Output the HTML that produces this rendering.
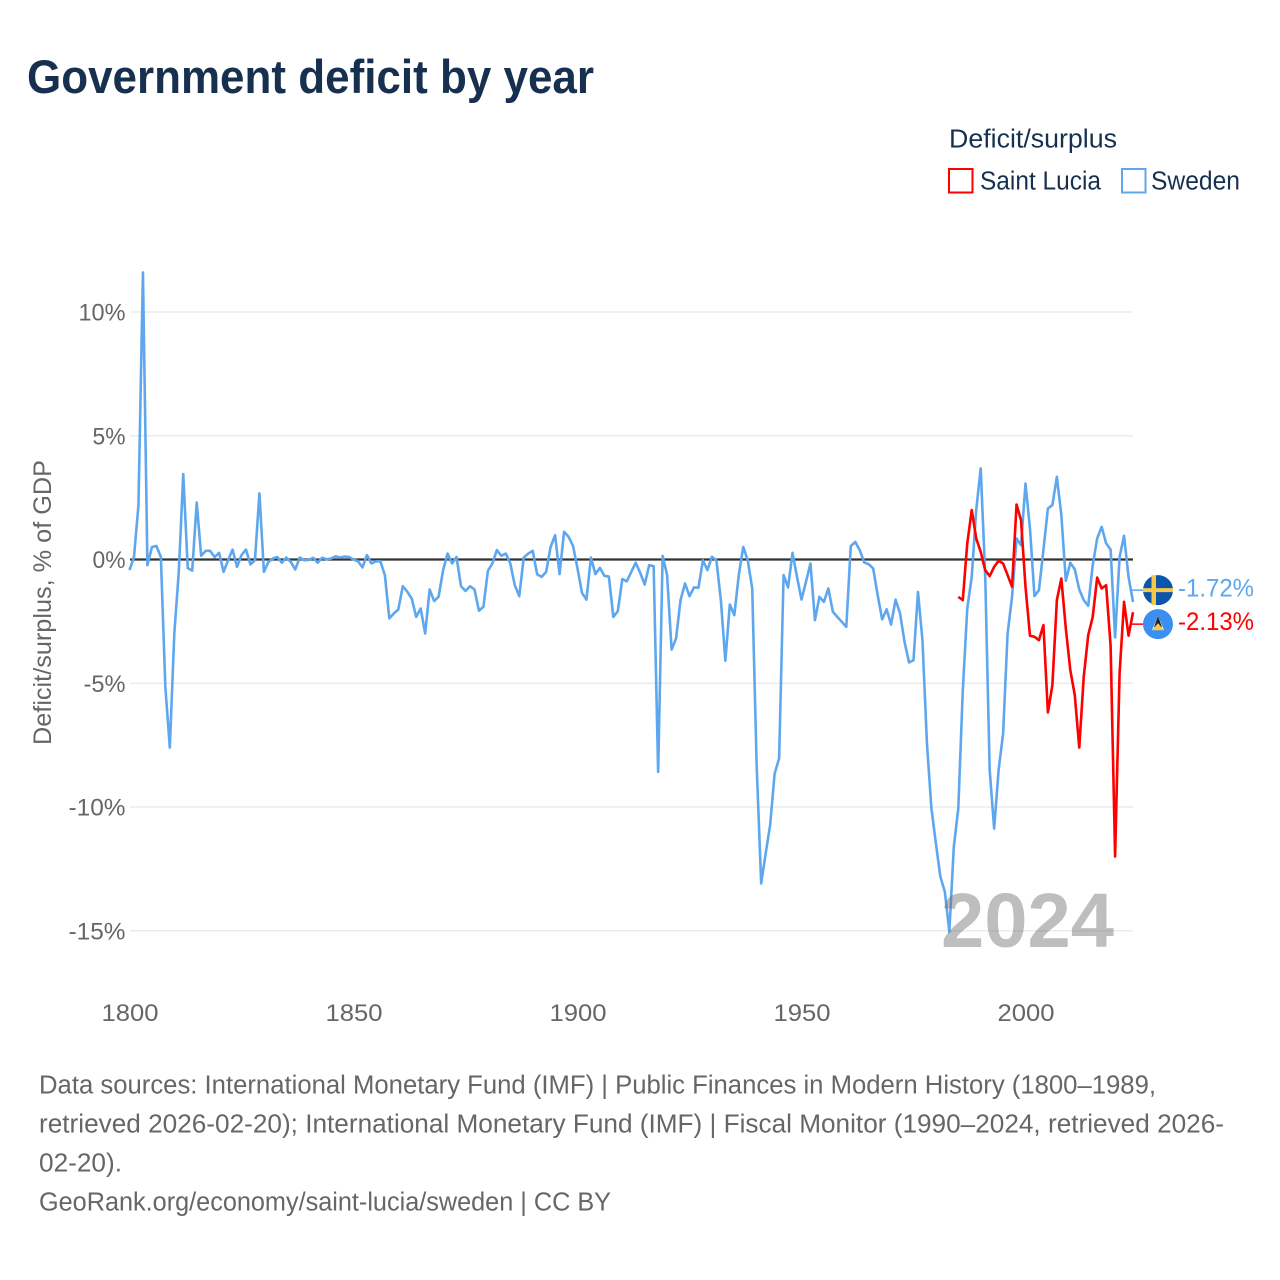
<!DOCTYPE html>
<html lang="en">
<head>
<meta charset="utf-8">
<title>Government deficit by year</title>
<style>
html,body{margin:0;padding:0;background:#fff;}
svg{display:block;font-family:"Liberation Sans",sans-serif;}
</style>
</head>
<body>
<svg id="chart" xmlns="http://www.w3.org/2000/svg" width="1280" height="1280" viewBox="0 0 1280 1280">
  <rect width="1280" height="1280" fill="#fff"/>
  <text x="27" y="93" font-size="47" font-weight="700" fill="#18304f" textLength="567" lengthAdjust="spacingAndGlyphs">Government deficit by year</text>
  <g>
    <text x="949" y="147.5" font-size="25.5" fill="#18304f" textLength="168" lengthAdjust="spacingAndGlyphs">Deficit/surplus</text>
    <g>
      <rect x="949" y="169" width="23.5" height="23.5" fill="#fff" stroke="#ff0000" stroke-width="2"/>
      <text x="980" y="189.5" font-size="25.5" fill="#18304f" textLength="121" lengthAdjust="spacingAndGlyphs">Saint Lucia</text>
    </g>
    <g>
      <rect x="1122" y="169" width="23.5" height="23.5" fill="#fff" stroke="#5ea7ef" stroke-width="2"/>
      <text x="1151" y="189.5" font-size="25.5" fill="#18304f" textLength="89" lengthAdjust="spacingAndGlyphs">Sweden</text>
    </g>
  </g>
  <text transform="translate(51,745) rotate(-90)" font-size="25" fill="#666" textLength="285" lengthAdjust="spacingAndGlyphs">Deficit/surplus, % of GDP</text>
  <g id="grid"></g>
  <g id="ytick-labels"></g>
  <g id="xtick-labels"></g>
  <line id="zero-line" stroke="#333" stroke-width="2.2"/>
  <g id="series"></g>
  <text x="941" y="947" font-size="77" font-weight="700" fill="#6e6e6e" fill-opacity="0.45" textLength="173" lengthAdjust="spacingAndGlyphs">2024</text>
  <g id="end-labels"></g>
  <g id="flag-sweden">
    <circle r="15" fill="#0b56a8"/>
    <rect x="-6.5" y="-15" width="4.5" height="30" fill="#f5c84a"/>
    <rect x="-15" y="-2" width="30" height="4" fill="#f5c84a"/>
  </g>
  <g id="flag-lucia">
    <circle r="15" fill="#3a8ff0"/>
    <polygon points="0,-8 6,6 -6,6" fill="#fff"/>
    <polygon points="0,-8 4,3 -4,3" fill="#222"/>
    <polygon points="0,-1 6,6 -6,6" fill="#f5c84a"/>
  </g>
  <g font-size="25.5" fill="#666">
    <text x="39" y="1093.5" textLength="1117" lengthAdjust="spacingAndGlyphs">Data sources: International Monetary Fund (IMF) | Public Finances in Modern History (1800–1989,</text>
    <text x="39" y="1132.5" textLength="1185" lengthAdjust="spacingAndGlyphs">retrieved 2026-02-20); International Monetary Fund (IMF) | Fiscal Monitor (1990–2024, retrieved 2026-</text>
    <text x="39" y="1171.5" textLength="83" lengthAdjust="spacingAndGlyphs">02-20).</text>
    <text x="39" y="1210.5" textLength="572" lengthAdjust="spacingAndGlyphs">GeoRank.org/economy/saint-lucia/sweden | CC BY</text>
  </g>
</svg>
<script>
var swedenStartYear = 1800;
var luciaStartYear = 1985;
var swedenValues = [
-0.43,0.1,2.2,11.6,-0.23,0.5,0.55,0.1,-5.15,-7.6,
-3.0,-0.5,3.45,-0.35,-0.45,2.3,0.15,0.35,0.35,0.1,
0.27,-0.5,-0.03,0.4,-0.3,0.18,0.4,-0.2,-0.03,2.67,
-0.5,-0.1,0.04,0.1,-0.13,0.08,-0.1,-0.4,0.08,-0.03,
-0.02,0.07,-0.13,0.07,0.01,0.04,0.13,0.08,0.12,0.1,
0,-0.07,-0.32,0.18,-0.16,-0.08,-0.07,-0.63,-2.38,-2.18,
-2.02,-1.08,-1.3,-1.58,-2.32,-1.98,-2.99,-1.21,-1.68,-1.5,
-0.43,0.24,-0.16,0.1,-1.08,-1.27,-1.08,-1.21,-2.07,-1.91,
-0.46,-0.16,0.38,0.15,0.24,-0.16,-1.04,-1.48,0.08,0.24,
0.35,-0.6,-0.7,-0.5,0.51,0.98,-0.59,1.12,0.92,0.55,
-0.36,-1.35,-1.62,0.08,-0.59,-0.34,-0.66,-0.69,-2.32,-2.09,
-0.79,-0.88,-0.5,-0.13,-0.54,-1.01,-0.23,-0.27,-8.58,0.15,
-0.63,-3.64,-3.19,-1.64,-0.97,-1.48,-1.13,-1.14,-0.03,-0.43,
0.11,-0.03,-1.64,-4.09,-1.82,-2.25,-0.63,0.51,-0.03,-1.17,
-8.38,-13.09,-11.88,-10.73,-8.65,-8.04,-0.63,-1.13,0.27,-0.7,
-1.62,-0.9,-0.16,-2.45,-1.51,-1.71,-1.17,-2.11,-2.32,-2.52,
-2.72,0.54,0.71,0.38,-0.12,-0.19,-0.36,-1.44,-2.42,-2.01,
-2.63,-1.62,-2.18,-3.33,-4.16,-4.07,-1.31,-3.26,-7.43,-10.06,
-11.47,-12.82,-13.43,-15.04,-11.6,-10.06,-5.3,-1.98,-0.7,2.0,
3.68,-0.6,-8.5,-10.87,-8.5,-7.03,-3.0,-1.5,0.85,0.58,
3.07,1.25,-1.48,-1.24,0.38,2.06,2.2,3.34,1.8,-0.86,
-0.13,-0.4,-1.21,-1.64,-1.87,-0.23,0.85,1.32,0.65,0.4,
-3.15,0.1,0.96,-0.7,-1.72
];
var luciaValues = [
-1.51,-1.64,0.65,2.0,0.85,0.31,-0.43,-0.67,-0.3,-0.05,
-0.16,-0.63,-1.1,2.22,1.59,-1.1,-3.08,-3.12,-3.26,-2.65,
-6.18,-5.08,-1.64,-0.77,-2.79,-4.47,-5.48,-7.6,-4.74,-3.06,
-2.32,-0.73,-1.17,-1.04,-3.5,-12.0,-4.6,-1.71,-3.08,-2.13
];
var yTickValues = [10,5,0,-5,-10,-15];
var yTickLabels = ["10%","5%","0%","-5%","-10%","-15%"];
var xTickValues = [1800,1850,1900,1950,2000];
var xTickLabels = ["1800","1850","1900","1950","2000"];

var SVGNS = "http://www.w3.org/2000/svg";
function xScale(year){ return 129.5 + (year - 1800) * 4.48; }
function yScale(v){ return 559.5 - v * 24.75; }
function make(tag, parent){
  var el = document.createElementNS(SVGNS, tag);
  parent.appendChild(el);
  return el;
}
function linePath(values, startYear){
  var d = "";
  for (var i = 0; i < values.length; i++){
    d += (i ? "L" : "M") + xScale(startYear + i).toFixed(2) + " " + yScale(values[i]).toFixed(2);
  }
  return d;
}

var gridG = document.getElementById("grid");
var yTickG = document.getElementById("ytick-labels");
var yWidths = {"10%":47,"5%":33,"0%":33,"-5%":42,"-10%":57,"-15%":57};
yTickValues.forEach(function(v, i){
  if (v !== 0) {
    var g = make("line", gridG);
    
    
    g.setAttribute("x1", 130);
    g.setAttribute("x2", 1133);
    g.setAttribute("y1", yScale(v));
    g.setAttribute("y2", yScale(v));
    g.setAttribute("stroke", "#ebebeb");
    g.setAttribute("stroke-width", "1.5");
  }
  var t = make("text", yTickG);
  
  
  t.setAttribute("x", 125.5 - yWidths[yTickLabels[i]]);
  t.setAttribute("y", yScale(v) + 8.5);
  t.setAttribute("font-size", "24.5");
  t.setAttribute("fill", "#666");
  t.setAttribute("textLength", yWidths[yTickLabels[i]]);
  t.setAttribute("lengthAdjust", "spacingAndGlyphs");
  t.textContent = yTickLabels[i];
});

var xTickG = document.getElementById("xtick-labels");
xTickValues.forEach(function(v, i){
  var t = make("text", xTickG);
  
  
  t.setAttribute("x", xScale(v) - 28);
  t.setAttribute("y", 1021);
  t.setAttribute("font-size", "24.5");
  t.setAttribute("fill", "#666");
  t.setAttribute("textLength", "57");
  t.setAttribute("lengthAdjust", "spacingAndGlyphs");
  t.textContent = xTickLabels[i];
});

var zero = document.getElementById("zero-line");
zero.setAttribute("x1", 130);
zero.setAttribute("x2", 1133);
zero.setAttribute("y1", yScale(0));
zero.setAttribute("y2", yScale(0));

var seriesG = document.getElementById("series");
var swedenLine = make("path", seriesG);


swedenLine.setAttribute("d", linePath(swedenValues, swedenStartYear));
swedenLine.setAttribute("fill", "none");
swedenLine.setAttribute("stroke", "#5ea7ef");
swedenLine.setAttribute("stroke-width", "2.6");
swedenLine.setAttribute("stroke-linejoin", "round");

var luciaLine = make("path", seriesG);


luciaLine.setAttribute("d", linePath(luciaValues, luciaStartYear));
luciaLine.setAttribute("fill", "none");
luciaLine.setAttribute("stroke", "#ff0000");
luciaLine.setAttribute("stroke-width", "2.6");
luciaLine.setAttribute("stroke-linejoin", "round");

var lastSweden = swedenValues[swedenValues.length - 1];
var lastLucia = luciaValues[luciaValues.length - 1];
var midY = (yScale(lastSweden) + yScale(lastLucia)) / 2;
var swedenLabelY = midY - 17;
var luciaLabelY = midY + 17;
var endG = document.getElementById("end-labels");

var swedenConn = make("line", endG);


swedenConn.setAttribute("x1", 1132);
swedenConn.setAttribute("x2", 1143);
swedenConn.setAttribute("y1", swedenLabelY);
swedenConn.setAttribute("y2", swedenLabelY);
swedenConn.setAttribute("stroke", "#5ea7ef");
swedenConn.setAttribute("stroke-width", "1.5");

var luciaConn = make("line", endG);


luciaConn.setAttribute("x1", 1132);
luciaConn.setAttribute("x2", 1143);
luciaConn.setAttribute("y1", luciaLabelY);
luciaConn.setAttribute("y2", luciaLabelY);
luciaConn.setAttribute("stroke", "#ff0000");
luciaConn.setAttribute("stroke-width", "1.5");

var swedenEnd = make("text", endG);


swedenEnd.setAttribute("x", 1178);
swedenEnd.setAttribute("y", swedenLabelY + 6.5);
swedenEnd.setAttribute("font-size", "25");
swedenEnd.setAttribute("fill", "#5ea7ef");
swedenEnd.setAttribute("textLength", "76");
swedenEnd.setAttribute("lengthAdjust", "spacingAndGlyphs");
swedenEnd.textContent = lastSweden.toFixed(2) + "%";

var luciaEnd = make("text", endG);


luciaEnd.setAttribute("x", 1178);
luciaEnd.setAttribute("y", luciaLabelY + 6);
luciaEnd.setAttribute("font-size", "25");
luciaEnd.setAttribute("fill", "#ff0000");
luciaEnd.setAttribute("textLength", "76");
luciaEnd.setAttribute("lengthAdjust", "spacingAndGlyphs");
luciaEnd.textContent = lastLucia.toFixed(2) + "%";

document.getElementById("flag-sweden").setAttribute("transform", "translate(1158," + swedenLabelY + ")");
document.getElementById("flag-lucia").setAttribute("transform", "translate(1158," + luciaLabelY + ")");
</script>
</body>
</html>
